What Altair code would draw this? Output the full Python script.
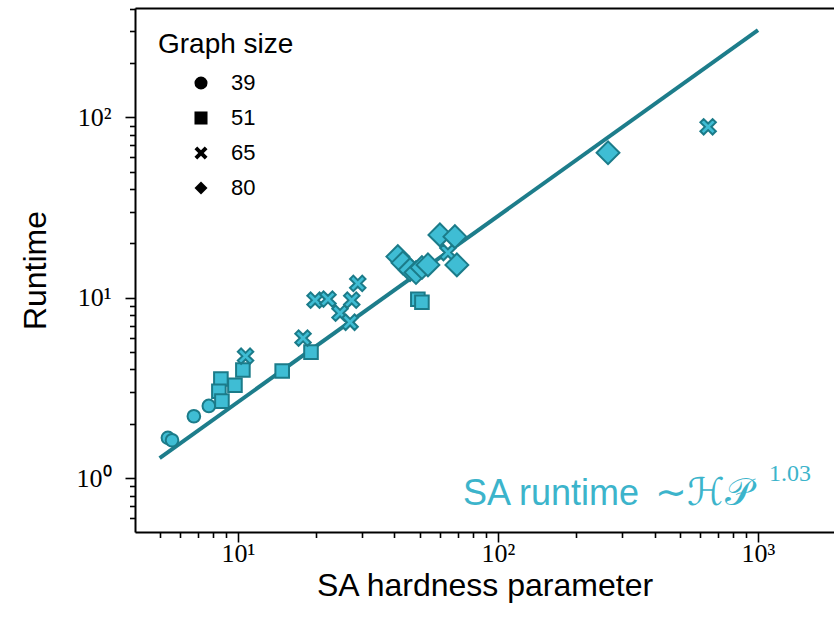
import altair as alt
import pandas as pd

# ---- data ----
graph_sizes = ["39", "51", "65", "80"]

circle_hp = [5.38, 5.58, 6.77, 7.73]
circle_rt = [1.67, 1.62, 2.20, 2.51]

square_hp = [8.60, 8.45, 8.68, 9.74, 10.45, 14.8, 19.1, 49.2, 51.0]
square_rt = [3.54, 3.03, 2.67, 3.27, 3.97, 3.92, 4.99, 9.80, 9.44]

cross_hp = [10.7, 17.8, 19.8, 22.2, 24.7, 27.0, 27.4, 28.9, 64.2, 643.0]
cross_rt = [4.74, 5.97, 9.69, 9.82, 8.21, 7.31, 9.69, 12.0, 17.8, 88.6]

diamond_hp = [41.2, 43.1, 45.9, 48.4, 51.0, 53.8, 59.8, 68.3, 69.5, 265.0]
diamond_rt = [16.9, 15.6, 14.3, 13.8, 14.7, 15.2, 22.3, 21.8, 15.2, 63.6]

fit_hp = [5.0, 1000.0]
fit_rt = [1.29, 305.0]

x_ticks = [5, 6, 7, 8, 9, 10, 20, 30, 40, 50, 60, 70, 80, 90, 100,
           200, 300, 400, 500, 600, 700, 800, 900, 1000]
y_ticks = [0.6, 0.7, 0.8, 0.9, 1, 2, 3, 4, 5, 6, 7, 8, 9, 10,
           20, 30, 40, 50, 60, 70, 80, 90, 100, 200, 300, 400]

X_PATH = ("M-1,0.576L-0.576,1L0,0.424L0.576,1L1,0.576L0.424,0L1,-0.576"
          "L0.576,-1L0,-0.424L-0.576,-1L-1,-0.576L-0.424,0Z")

FILL = "#3fbdd4"
EDGE = "#1b7b89"
LINE = "#1d7d8b"
TXT = "#3cb4cb"

xscale = alt.Scale(type="log", domain=[4.02, 1960], nice=False)
yscale = alt.Scale(type="log", domain=[0.502, 404], nice=False)
shape_scale = alt.Scale(domain=graph_sizes, range=["circle", "square", X_PATH, "diamond"])

xlabel = "datum.value==10?'10¹':datum.value==100?'10²':datum.value==1000?'10³':''"
ylabel = "datum.value==1?'10⁰':datum.value==10?'10¹':datum.value==100?'10²':''"

x_axis = alt.Axis(
    values=x_ticks, labelExpr=xlabel, title="SA hardness parameter",
    tickSize={"condition": {"test": "indexof([10,100,1000], datum.value) >= 0", "value": 10}, "value": 5.5},
    tickWidth=1.6, tickColor="black", domainColor="black", domainWidth=2,
    labelFont="Liberation Serif", labelFontSize=26, labelColor="black", labelPadding=-2,
    titleFont="Liberation Sans", titleFontSize=32, titleFontWeight="normal", titleColor="black",
    titlePadding=4, grid=False, labelFlush=False, labelOverlap=False,
)
y_axis = alt.Axis(
    values=y_ticks, labelExpr=ylabel, title="Runtime",
    tickSize={"condition": {"test": "indexof([1,10,100], datum.value) >= 0", "value": 10}, "value": 5.5},
    tickWidth=1.6, tickColor="black", domainColor="black", domainWidth=2,
    labelFont="Liberation Serif", labelFontSize=26, labelColor="black", labelPadding=14,
    titleFont="Liberation Sans", titleFontSize=32, titleFontWeight="normal", titleColor="black",
    titlePadding=24, grid=False, labelFlush=False, labelOverlap=False,
)

fit = pd.DataFrame({"hp": fit_hp, "rt": fit_rt})
line = alt.Chart(fit).mark_line(color=LINE, strokeWidth=4).encode(
    x=alt.X("hp:Q", scale=xscale,
            axis=alt.Axis(orient="top", labels=False, ticks=False, title=None,
                          domainColor="black", domainWidth=2, grid=False)),
    y=alt.Y("rt:Q", scale=yscale, axis=y_axis),
)

legend = alt.Legend(
    title="Graph size", orient="top-left", offset=23,
    symbolFillColor="black", symbolStrokeColor="black", symbolStrokeWidth=0,
    symbolOpacity=1, symbolSize=170, symbolOffset=32, labelOffset=19,
    titleFont="Liberation Sans", titleFontSize=28, titleFontWeight="normal",
    titleColor="black", labelFont="Liberation Sans", labelFontSize=22,
    labelColor="black", rowPadding=13, titlePadding=13,
)

frames = []
for g, xs, ys in [("39", circle_hp, circle_rt), ("51", square_hp, square_rt),
                  ("65", cross_hp, cross_rt), ("80", diamond_hp, diamond_rt)]:
    frames.append(pd.DataFrame({"hp": xs, "rt": ys, "size": [g] * len(xs)}))
all_points = pd.concat(frames, ignore_index=True)

# legend carrier: same points, fully transparent, black symbols in the legend
legend_layer = alt.Chart(all_points).mark_point(
    filled=True, color="black", opacity=0, strokeWidth=0
).encode(
    x=alt.X("hp:Q", scale=xscale, axis=x_axis),
    y=alt.Y("rt:Q", scale=yscale),
    shape=alt.Shape("size:N", scale=shape_scale, legend=legend),
)


def group_layer(df, size):
    return alt.Chart(df).mark_point(
        filled=True, fill=FILL, stroke=EDGE, strokeWidth=2, opacity=1,
        fillOpacity=1, strokeOpacity=1, size=size,
    ).encode(
        x=alt.X("hp:Q", scale=xscale, axis=None),
        y=alt.Y("rt:Q", scale=yscale),
        shape=alt.Shape("size:N", scale=shape_scale, legend=None),
    )


l39 = group_layer(frames[0], 160)
l51 = group_layer(frames[1], 185)
l65 = group_layer(frames[2], 240)
l80 = group_layer(frames[3], 520)

t1 = alt.Chart(pd.DataFrame({"t": ["SA runtime"]})).mark_text(
    align="left", baseline="alphabetic", font="Liberation Sans", fontSize=36, color=TXT
).encode(text="t:N", x=alt.value(328), y=alt.value(497))

t2 = alt.Chart(pd.DataFrame({"t": ["∼ℋ𝒫"]})).mark_text(
    align="left", baseline="alphabetic", font="Liberation Serif", fontSize=38, color=TXT
).encode(text="t:N", x=alt.value(520), y=alt.value(497))

t3 = alt.Chart(pd.DataFrame({"t": ["1.03"]})).mark_text(
    align="left", baseline="alphabetic", font="Liberation Serif", fontSize=24, color=TXT
).encode(text="t:N", x=alt.value(634), y=alt.value(473))

chart = alt.layer(line, legend_layer, l39, l51, l65, l80, t1, t2, t3).resolve_axis(
    x="independent"
).properties(
    width=699, height=524,
    autosize=alt.AutoSizeParams(type="none"),
    padding={"left": 135, "top": 8, "right": 0, "bottom": 97},
).configure_view(stroke=None).configure(background="white")

chart.save("out.html", embed_options={"renderer": "svg", "actions": False})
